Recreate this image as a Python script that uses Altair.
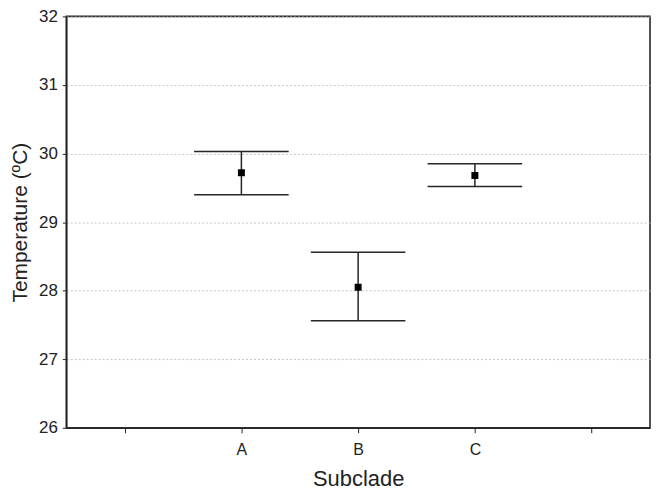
import altair as alt
import pandas as pd

subclades = ["A", "B", "C"]
positions = [1, 2, 3]
means = [29.72, 28.05, 29.68]
upper = [30.03, 28.56, 29.85]
lower = [29.40, 27.56, 29.52]

tick_labels = ["", "A", "B", "C", ""]
y_ticks = [26, 27, 28, 29, 30, 31, 32]
cap_half = 0.405

df = pd.DataFrame({"subclade": subclades, "pos": positions,
                   "mean": means, "upper": upper, "lower": lower})

label_expr = "[" + ",".join(f"'{t}'" for t in tick_labels) + "][datum.value]"

x_scale = alt.Scale(domain=[-0.5, 4.5], nice=False, zero=False)
y_scale = alt.Scale(domain=[26, 32], nice=False, zero=False)

font = "Liberation Sans"
line_col = "#262626"

x_axis = alt.Axis(values=[0, 1, 2, 3, 4], labelExpr=label_expr, title="Subclade",
                  grid=False, tickSize=5, tickColor=line_col, domainColor=line_col,
                  domainWidth=1.6, tickWidth=1, labelPadding=9, labelFontSize=16,
                  labelFont=font, labelColor="#222", titleFont=font, titleFontSize=22,
                  titleFontWeight="normal", titleColor="#222", titlePadding=11)
y_axis = alt.Axis(values=y_ticks, format="d", title="Temperature (ºC)", grid=True,
                  gridColor="#b5b5b5", gridDash=[2, 2], gridWidth=0.8,
                  tickSize=4, tickColor=line_col, domainColor=line_col,
                  domainWidth=1.6, labelPadding=5, labelFontSize=17,
                  labelFont=font, labelColor="#222", titleFont=font, titleFontSize=21,
                  titleFontWeight="normal", titleColor="#222", titlePadding=8)

base = alt.Chart(df)

stems = base.mark_rule(color=line_col, strokeWidth=1.5).encode(
    x=alt.X("pos:Q", scale=x_scale, axis=x_axis),
    y=alt.Y("lower:Q", scale=y_scale, axis=y_axis),
    y2="upper:Q",
)

caps_top = base.transform_calculate(
    xl=f"datum.pos - {cap_half}", xr=f"datum.pos + {cap_half}"
).mark_rule(color=line_col, strokeWidth=1.5).encode(
    x=alt.X("xl:Q", scale=x_scale), x2="xr:Q", y=alt.Y("upper:Q", scale=y_scale)
)
caps_bot = base.transform_calculate(
    xl=f"datum.pos - {cap_half}", xr=f"datum.pos + {cap_half}"
).mark_rule(color=line_col, strokeWidth=1.5).encode(
    x=alt.X("xl:Q", scale=x_scale), x2="xr:Q", y=alt.Y("lower:Q", scale=y_scale)
)

points = base.mark_square(color="black", size=49, opacity=1).encode(
    x=alt.X("pos:Q", scale=x_scale), y=alt.Y("mean:Q", scale=y_scale)
)

chart = alt.layer(stems, caps_top, caps_bot, points).properties(
    width=586, height=413,
    autosize=alt.AutoSizeParams(type="none"),
    padding={"left": 58.5, "top": 7.5, "right": 2, "bottom": 63},
    background="white",
).configure_view(stroke=line_col, strokeWidth=1.6)

chart.save("out.html", embed_options={"renderer": "svg", "actions": False})
